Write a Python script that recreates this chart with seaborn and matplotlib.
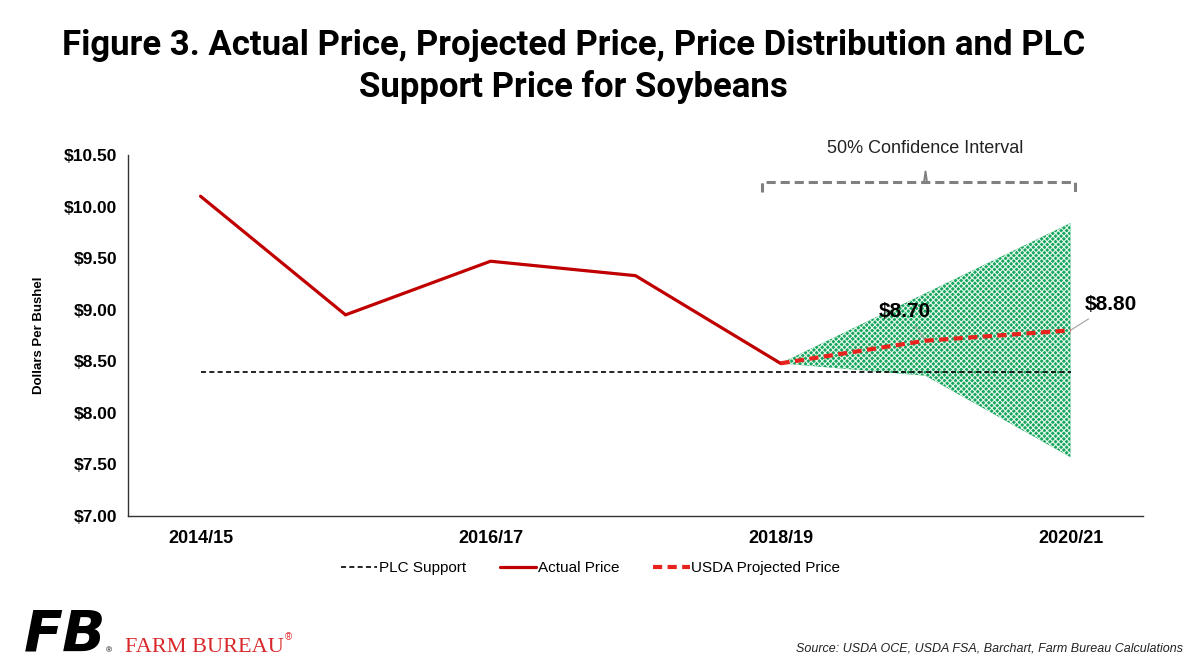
import matplotlib
matplotlib.use('Agg')
import numpy as np
import pandas as pd
import seaborn as sns
from matplotlib import pyplot as plt

sns.set_style("white")
plt.rcParams['font.family'] = ['Liberation Sans', 'DejaVu Sans']
plt.rcParams['hatch.linewidth'] = 0.8
for k in ['text.color', 'axes.labelcolor', 'xtick.color', 'ytick.color']:
    plt.rcParams[k] = 'black'

# data
years = ['2014/15', '2015/16', '2016/17', '2017/18', '2018/19', '2019/20', '2020/21']
actual_price = [10.10, 8.95, 9.47, 9.33, 8.48, np.nan, np.nan]
projected_price = [np.nan, np.nan, np.nan, np.nan, 8.48, 8.70, 8.80]
plc_support = [8.40] * 7
ci_lower = [np.nan, np.nan, np.nan, np.nan, 8.48, 8.36, 7.57]
ci_upper = [np.nan, np.nan, np.nan, np.nan, 8.48, 9.16, 9.84]
yticks = [7.0, 7.5, 8.0, 8.5, 9.0, 9.5, 10.0, 10.5]

df = pd.DataFrame({'year': years, 'pos': range(len(years)), 'actual': actual_price,
                   'projected': projected_price, 'plc': plc_support,
                   'lo': ci_lower, 'hi': ci_upper})

fig = plt.figure(figsize=(12, 6.66), dpi=100)
ax = fig.add_axes([0.1067, 0.2252, 0.8458, 0.5421])

ci = df.dropna(subset=['lo'])
ax.fill_between(ci['pos'], ci['lo'], ci['hi'], facecolor='#14a65c', edgecolor='#e6f6ec',
                hatch='xxxxxx', linewidth=0, zorder=1)

sns.lineplot(data=df, x='pos', y='plc', ax=ax, color='black', linewidth=1.2,
             linestyle=(0, (3, 2)), label='PLC Support', zorder=3)
sns.lineplot(data=df.dropna(subset=['actual']), x='pos', y='actual', ax=ax, color='#c00000',
             linewidth=2.3, label='Actual Price', zorder=4)
sns.lineplot(data=df.dropna(subset=['projected']), x='pos', y='projected', ax=ax, color='#e8221c',
             linewidth=3.0, linestyle=(0, (2.2, 1.3)), label='USDA Projected Price', zorder=5)

ax.set_xlim(-0.5, len(years) - 0.5)
ax.set_ylim(7.0, 10.5)
ax.set_yticks(yticks)
ax.set_yticklabels(['${:.2f}'.format(v) for v in yticks], fontsize=12.5, fontweight='bold')
ax.set_xticks(np.arange(-0.5, len(years)), labels=[])
ax.set_xticks(df['pos'][::2], labels=df['year'][::2], minor=True)
ax.tick_params(axis='x', which='major', length=5, width=1, color='#555555', direction='out')
ax.tick_params(axis='x', which='minor', length=0, pad=10, labelsize=13)
for t in ax.get_xticklabels(minor=True):
    t.set_fontweight('bold')
ax.tick_params(axis='y', length=5, width=1, color='#555555', direction='out', pad=3)
ax.set_xlabel('')
ax.set_ylabel('Dollars Per Bushel', fontsize=9.5, fontweight='bold')
ax.yaxis.set_label_coords(-0.082, 0.5)
sns.despine(ax=ax)
for s in ['left', 'bottom']:
    ax.spines[s].set_color('#333333')
    ax.spines[s].set_linewidth(1)

# value labels
ax.annotate('$8.70', xy=(5, projected_price[5]), xytext=(4.86, 8.98), ha='center', va='center',
            fontsize=15, fontweight='bold',
            arrowprops=dict(arrowstyle='-', color='#a0a0a0', lw=0.8, shrinkA=1, shrinkB=0))
ax.annotate('$8.80', xy=(6, projected_price[6]), xytext=(6.28, 9.05), ha='center', va='center',
            fontsize=15, fontweight='bold', annotation_clip=False,
            arrowprops=dict(arrowstyle='-', color='#a0a0a0', lw=0.8, shrinkA=2, shrinkB=0))

# confidence interval bracket
ax.plot([3.87, 3.87, 6.03, 6.03], [10.14, 10.24, 10.24, 10.14], color='#808080', lw=2.2,
        linestyle=(0, (3, 1.6)), clip_on=False)
ax.plot([4.99, 5.0, 5.01], [10.24, 10.34, 10.24], color='#808080', lw=1.4, clip_on=False)
ax.text(5.0, 10.56, '50% Confidence Interval', ha='center', va='center', fontsize=13,
        clip_on=False, color='#222222')

leg = ax.legend(loc='center', bbox_to_anchor=(0.492, 0.147), bbox_transform=fig.transFigure,
                ncol=3, frameon=False, fontsize=11, handlelength=2.4, handletextpad=0.1,
                columnspacing=2.2)

title_font = ['Roboto', 'Liberation Sans', 'DejaVu Sans']
fig.text(0.478, 0.932, 'Figure 3. Actual Price, Projected Price, Price Distribution and PLC',
         ha='center', va='center', fontsize=25, fontweight='bold', family=title_font)
fig.text(0.478, 0.869, 'Support Price for Soybeans',
         ha='center', va='center', fontsize=25, fontweight='bold', family=title_font)

# logo
fig.text(0.02, 0.022, 'FB', fontsize=41, fontweight='bold', fontstyle='italic', color='black',
         family=['DejaVu Sans'], ha='left', va='baseline')
fig.text(0.0885, 0.02, '\u00ae', fontsize=6)
fig.text(0.104, 0.021, 'FARM BUREAU', fontsize=16, color='#d8282b',
         family=['Liberation Serif', 'DejaVu Serif'], ha='left', va='baseline')
fig.text(0.2375, 0.044, '\u00ae', fontsize=7, color='#d8282b', ha='left', va='center')
fig.text(0.986, 0.022, 'Source: USDA OCE, USDA FSA, Barchart, Farm Bureau Calculations',
         fontsize=9, fontstyle='italic', ha='right', va='baseline', color='#222222')

fig.savefig('out.png', dpi=100)
